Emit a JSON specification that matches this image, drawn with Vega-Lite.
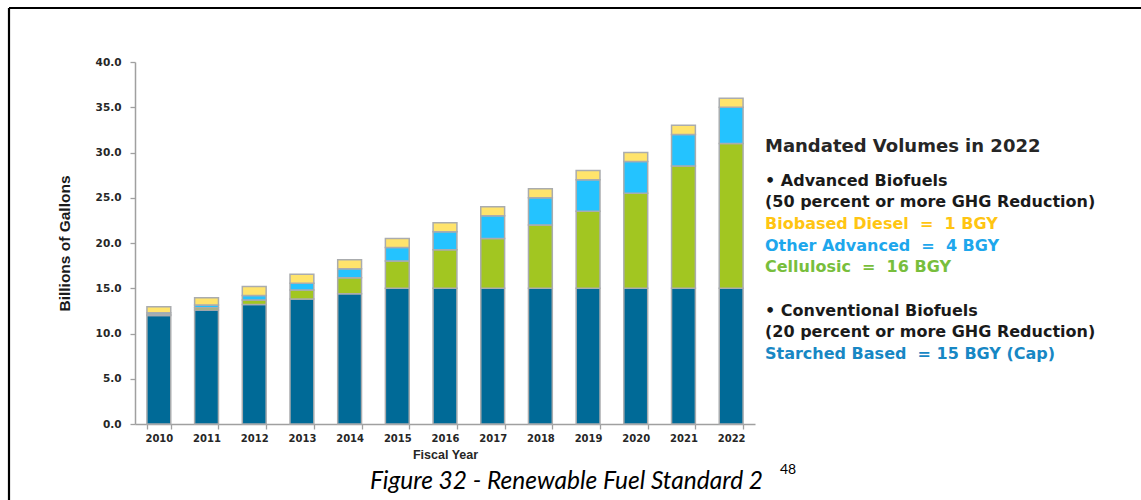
{
  "$schema": "https://vega.github.io/schema/vega-lite/v6.json",
  "width": 1132,
  "height": 492,
  "autosize": {"type": "none"},
  "padding": {"left": 9, "top": 8, "right": 0, "bottom": 0},
  "background": "white",
  "config": {"view": {"stroke": null}},
  "datasets": {
    "fuel": [
      {"year": "2010", "type": "Starch Based", "rank": 1, "value": 12.0},
      {"year": "2010", "type": "Cellulosic", "rank": 2, "value": 0.1},
      {"year": "2010", "type": "Other Advanced", "rank": 3, "value": 0.2},
      {"year": "2010", "type": "Biobased Diesel", "rank": 4, "value": 0.65},
      {"year": "2011", "type": "Starch Based", "rank": 1, "value": 12.6},
      {"year": "2011", "type": "Cellulosic", "rank": 2, "value": 0.25},
      {"year": "2011", "type": "Other Advanced", "rank": 3, "value": 0.3},
      {"year": "2011", "type": "Biobased Diesel", "rank": 4, "value": 0.8},
      {"year": "2012", "type": "Starch Based", "rank": 1, "value": 13.2},
      {"year": "2012", "type": "Cellulosic", "rank": 2, "value": 0.5},
      {"year": "2012", "type": "Other Advanced", "rank": 3, "value": 0.5},
      {"year": "2012", "type": "Biobased Diesel", "rank": 4, "value": 1.0},
      {"year": "2013", "type": "Starch Based", "rank": 1, "value": 13.8},
      {"year": "2013", "type": "Cellulosic", "rank": 2, "value": 1.0},
      {"year": "2013", "type": "Other Advanced", "rank": 3, "value": 0.75},
      {"year": "2013", "type": "Biobased Diesel", "rank": 4, "value": 1.0},
      {"year": "2014", "type": "Starch Based", "rank": 1, "value": 14.4},
      {"year": "2014", "type": "Cellulosic", "rank": 2, "value": 1.75},
      {"year": "2014", "type": "Other Advanced", "rank": 3, "value": 1.0},
      {"year": "2014", "type": "Biobased Diesel", "rank": 4, "value": 1.0},
      {"year": "2015", "type": "Starch Based", "rank": 1, "value": 15.0},
      {"year": "2015", "type": "Cellulosic", "rank": 2, "value": 3.0},
      {"year": "2015", "type": "Other Advanced", "rank": 3, "value": 1.5},
      {"year": "2015", "type": "Biobased Diesel", "rank": 4, "value": 1.0},
      {"year": "2016", "type": "Starch Based", "rank": 1, "value": 15.0},
      {"year": "2016", "type": "Cellulosic", "rank": 2, "value": 4.25},
      {"year": "2016", "type": "Other Advanced", "rank": 3, "value": 2.0},
      {"year": "2016", "type": "Biobased Diesel", "rank": 4, "value": 1.0},
      {"year": "2017", "type": "Starch Based", "rank": 1, "value": 15.0},
      {"year": "2017", "type": "Cellulosic", "rank": 2, "value": 5.5},
      {"year": "2017", "type": "Other Advanced", "rank": 3, "value": 2.5},
      {"year": "2017", "type": "Biobased Diesel", "rank": 4, "value": 1.0},
      {"year": "2018", "type": "Starch Based", "rank": 1, "value": 15.0},
      {"year": "2018", "type": "Cellulosic", "rank": 2, "value": 7.0},
      {"year": "2018", "type": "Other Advanced", "rank": 3, "value": 3.0},
      {"year": "2018", "type": "Biobased Diesel", "rank": 4, "value": 1.0},
      {"year": "2019", "type": "Starch Based", "rank": 1, "value": 15.0},
      {"year": "2019", "type": "Cellulosic", "rank": 2, "value": 8.5},
      {"year": "2019", "type": "Other Advanced", "rank": 3, "value": 3.5},
      {"year": "2019", "type": "Biobased Diesel", "rank": 4, "value": 1.0},
      {"year": "2020", "type": "Starch Based", "rank": 1, "value": 15.0},
      {"year": "2020", "type": "Cellulosic", "rank": 2, "value": 10.5},
      {"year": "2020", "type": "Other Advanced", "rank": 3, "value": 3.5},
      {"year": "2020", "type": "Biobased Diesel", "rank": 4, "value": 1.0},
      {"year": "2021", "type": "Starch Based", "rank": 1, "value": 15.0},
      {"year": "2021", "type": "Cellulosic", "rank": 2, "value": 13.5},
      {"year": "2021", "type": "Other Advanced", "rank": 3, "value": 3.5},
      {"year": "2021", "type": "Biobased Diesel", "rank": 4, "value": 1.0},
      {"year": "2022", "type": "Starch Based", "rank": 1, "value": 15.0},
      {"year": "2022", "type": "Cellulosic", "rank": 2, "value": 16.0},
      {"year": "2022", "type": "Other Advanced", "rank": 3, "value": 4.0},
      {"year": "2022", "type": "Biobased Diesel", "rank": 4, "value": 1.0}
    ],
    "notes": [
      {"row": 1, "text": "• Advanced Biofuels", "group": "header"},
      {"row": 2, "text": "(50 percent or more GHG Reduction)", "group": "header"},
      {"row": 3, "text": "Biobased Diesel \u00a0= \u00a01 BGY", "group": "bbd"},
      {"row": 4, "text": "Other Advanced \u00a0= \u00a04 BGY", "group": "other"},
      {"row": 5, "text": "Cellulosic \u00a0= \u00a016 BGY", "group": "cell"},
      {"row": 7, "text": "• Conventional Biofuels", "group": "header"},
      {"row": 8, "text": "(20 percent or more GHG Reduction)", "group": "header"},
      {"row": 9, "text": "Starched Based \u00a0= 15 BGY (Cap)", "group": "starch"}
    ]
  },
  "layer": [
    {
      "data": {"name": "fuel"},
      "mark": {"type": "bar", "stroke": "#AAACAE", "strokeWidth": 1.5},
      "encoding": {
        "x": {
          "field": "year", "type": "ordinal",
          "scale": {"range": [126, 746], "paddingInner": 0.5, "paddingOuter": 0.25},
          "axis": {
            "title": "Fiscal Year", "orient": "bottom", "offset": -76, "labelAngle": 0,
            "labelFont": "DejaVu Sans", "labelFontWeight": "bold", "labelFontSize": 10, "labelColor": "#262626",
            "labelPadding": 4, "tickBand": "extent", "tickSize": 5, "tickColor": "#A0A0A0", "tickWidth": 1.3,
            "domainColor": "#A0A0A0", "domainWidth": 1.5, "grid": false,
            "titleFont": "Liberation Sans", "titleFontSize": 12.5, "titleFontWeight": "bold", "titleColor": "#262626", "titlePadding": 5
          }
        },
        "y": {
          "field": "value", "type": "quantitative", "stack": "zero",
          "scale": {"domain": [0, 40], "range": [416, 54], "nice": false},
          "axis": {
            "title": "Billions of Gallons", "orient": "left", "offset": -126,
            "values": [0, 5, 10, 15, 20, 25, 30, 35, 40], "format": ".1f",
            "labelFont": "DejaVu Sans", "labelFontWeight": "bold", "labelFontSize": 10.5, "labelColor": "#262626",
            "labelPadding": 9, "tickSize": 5, "tickColor": "#A0A0A0", "tickWidth": 1.3,
            "domainColor": "#A0A0A0", "domainWidth": 1.5, "grid": false,
            "titleFont": "Liberation Sans", "titleFontSize": 15.5, "titleFontWeight": "bold", "titleColor": "#1a1a1a", "titlePadding": 23
          }
        },
        "order": {"field": "rank", "type": "quantitative", "sort": "ascending"},
        "fill": {
          "field": "type", "type": "nominal",
          "scale": {"domain": ["Starch Based", "Cellulosic", "Other Advanced", "Biobased Diesel"], "range": ["#006A97", "#A2C621", "#24C3FF", "#FFE46C"]},
          "legend": null
        }
      }
    },
    {
      "data": {"name": "notes"},
      "mark": {"type": "text", "align": "left", "baseline": "middle", "font": "DejaVu Sans", "fontWeight": "bold", "fontSize": 16},
      "encoding": {
        "x": {"datum": 0, "type": "quantitative", "scale": {"domain": [0, 1], "range": [756, 1132]}, "axis": null},
        "y": {"field": "row", "type": "quantitative", "scale": {"domain": [1, 9], "range": [172.7, 346]}, "axis": null},
        "text": {"field": "text"},
        "color": {
          "field": "group", "type": "nominal",
          "scale": {"domain": ["header", "bbd", "other", "cell", "starch"], "range": ["#1a1a1a", "#FFC512", "#1EA7EC", "#78BE3C", "#1787C4"]},
          "legend": null
        }
      }
    },
    {
      "data": {"values": [{"row": 0, "text": "Mandated Volumes in 2022"}]},
      "mark": {"type": "text", "align": "left", "baseline": "middle", "font": "DejaVu Sans", "fontWeight": "bold", "fontSize": 18, "color": "#262626", "dy": -12},
      "encoding": {
        "x": {"datum": 0, "type": "quantitative", "scale": {"domain": [0, 1], "range": [756, 1132]}, "axis": null},
        "y": {"field": "row", "type": "quantitative", "scale": {"domain": [1, 9], "range": [172.7, 346]}, "axis": null},
        "text": {"field": "text"}
      }
    },
    {
      "data": {"values": [{"text": "Figure 32 - Renewable Fuel Standard 2"}]},
      "mark": {"type": "text", "align": "center", "baseline": "middle", "font": "Lato", "fontStyle": "italic", "fontSize": 24.5, "color": "#000000"},
      "encoding": {
        "x": {"datum": 0.5, "type": "quantitative", "scale": {"domain": [0, 1], "range": [0, 1115]}, "axis": null},
        "y": {"datum": 0, "type": "quantitative", "scale": {"domain": [0, 1], "range": [474, 0]}, "axis": null},
        "text": {"field": "text"}
      }
    },
    {
      "data": {"values": [{"text": "48"}]},
      "mark": {"type": "text", "align": "left", "baseline": "middle", "font": "Lato", "fontSize": 14, "color": "#000000"},
      "encoding": {
        "x": {"datum": 0, "type": "quantitative", "scale": {"domain": [0, 1], "range": [771, 800]}, "axis": null},
        "y": {"datum": 0, "type": "quantitative", "scale": {"domain": [0, 1], "range": [462, 0]}, "axis": null},
        "text": {"field": "text"}
      }
    },
    {
      "data": {"values": [{}]},
      "mark": {"type": "rule", "color": "#000000", "strokeWidth": 2.2},
      "encoding": {
        "y": {"datum": 0, "type": "quantitative", "scale": {"domain": [0, 1], "range": [0, 492]}, "axis": null}
      }
    },
    {
      "data": {"values": [{}]},
      "mark": {"type": "rule", "color": "#000000", "strokeWidth": 2.2},
      "encoding": {
        "x": {"datum": 0, "type": "quantitative", "scale": {"domain": [0, 1], "range": [0, 1132]}, "axis": null}
      }
    }
  ],
  "resolve": {"scale": {"x": "independent", "y": "independent", "color": "independent", "fill": "independent"}}
}
